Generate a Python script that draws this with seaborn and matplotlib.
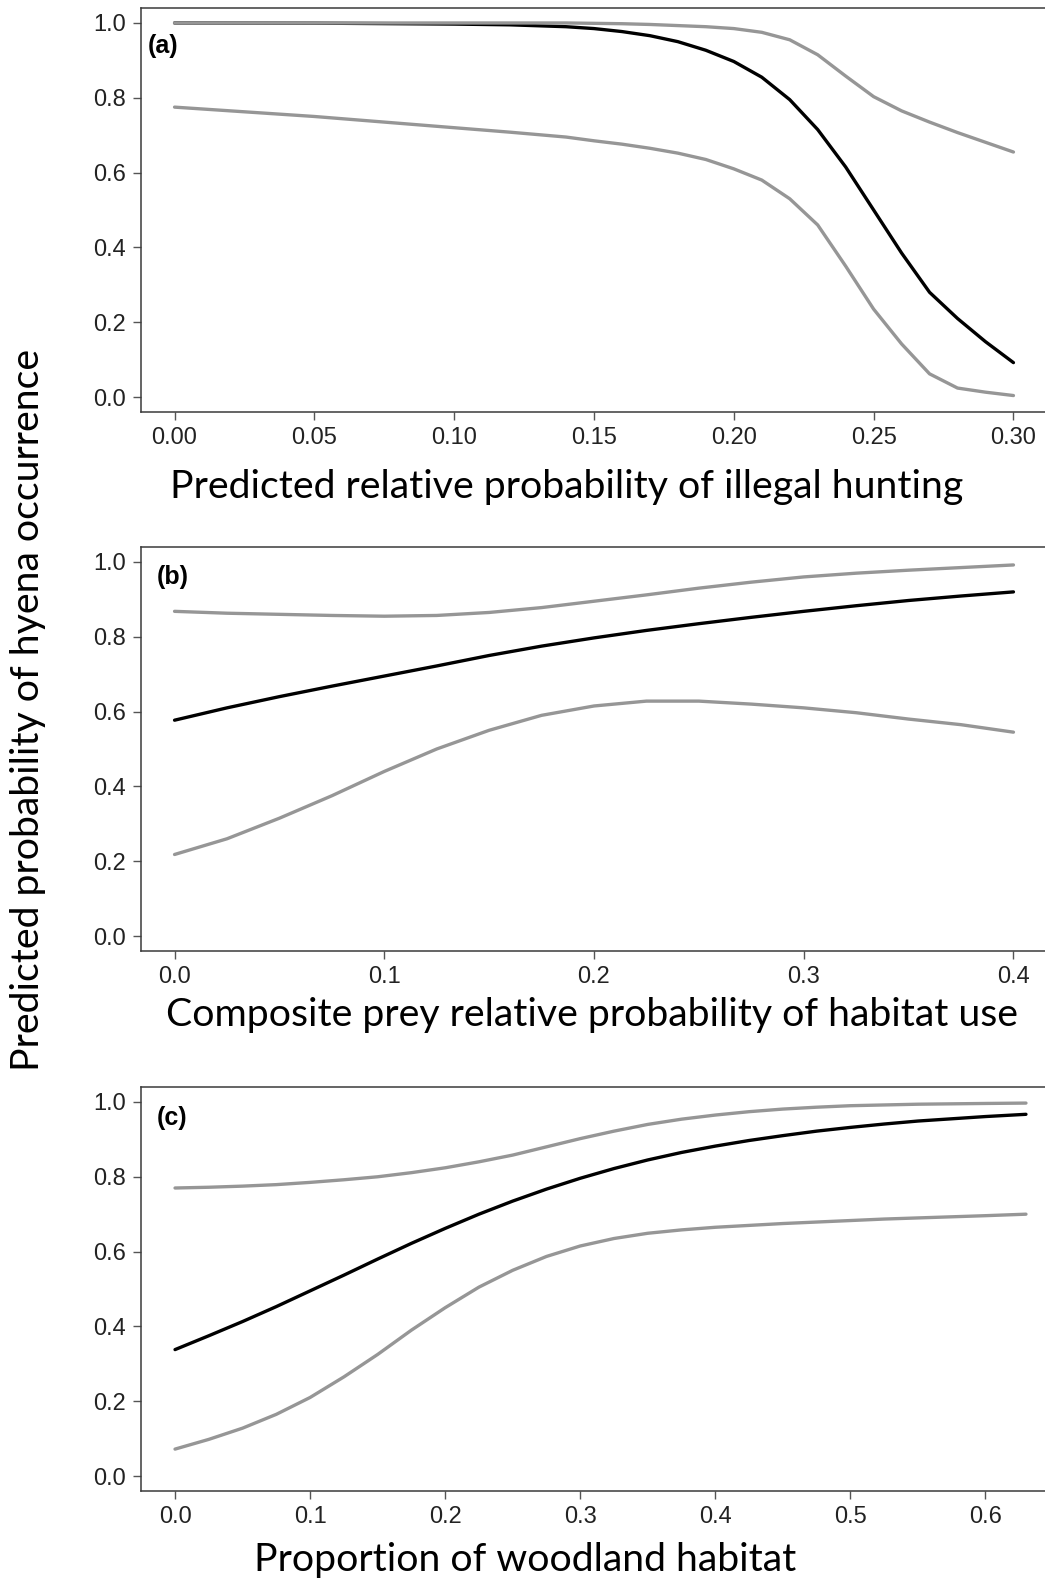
import numpy as np
import pandas as pd
import matplotlib
matplotlib.use("Agg")
import matplotlib.pyplot as plt
import seaborn as sns

# ---------------- data ----------------
# Panel (a): illegal hunting
a_x = [0.00, 0.05, 0.10, 0.12, 0.14, 0.15, 0.16, 0.17, 0.18, 0.19, 0.20, 0.21,
       0.22, 0.23, 0.24, 0.25, 0.26, 0.27, 0.28, 0.29, 0.30]
a_mean = [1.000, 0.9995, 0.997, 0.995, 0.990, 0.985, 0.977, 0.966, 0.950, 0.927,
          0.897, 0.855, 0.795, 0.715, 0.615, 0.500, 0.385, 0.280, 0.210, 0.148, 0.092]
a_upper = [1.000, 1.000, 1.000, 1.000, 1.000, 0.999, 0.998, 0.996, 0.993, 0.990,
           0.985, 0.975, 0.955, 0.915, 0.858, 0.803, 0.765, 0.735, 0.707, 0.681, 0.655]
a_lower = [0.775, 0.750, 0.720, 0.708, 0.695, 0.685, 0.676, 0.665, 0.652, 0.635,
           0.610, 0.580, 0.530, 0.460, 0.350, 0.235, 0.142, 0.062, 0.024, 0.013, 0.004]

# Panel (b): composite prey
b_x = [0.000, 0.025, 0.050, 0.075, 0.100, 0.125, 0.150, 0.175, 0.200, 0.225,
       0.250, 0.275, 0.300, 0.325, 0.350, 0.375, 0.400]
b_mean = [0.577, 0.610, 0.640, 0.668, 0.695, 0.722, 0.750, 0.775, 0.797, 0.817,
          0.835, 0.852, 0.868, 0.883, 0.897, 0.909, 0.920]
b_upper = [0.868, 0.863, 0.860, 0.857, 0.855, 0.857, 0.865, 0.878, 0.895, 0.912,
           0.930, 0.946, 0.960, 0.970, 0.978, 0.985, 0.992]
b_lower = [0.218, 0.260, 0.315, 0.375, 0.440, 0.500, 0.550, 0.590, 0.615, 0.628,
           0.628, 0.620, 0.610, 0.597, 0.580, 0.565, 0.545]

# Panel (c): woodland habitat
c_x = [0.000, 0.025, 0.050, 0.075, 0.100, 0.125, 0.150, 0.175, 0.200, 0.225,
       0.250, 0.275, 0.300, 0.325, 0.350, 0.375, 0.400, 0.425, 0.450, 0.475,
       0.500, 0.525, 0.550, 0.575, 0.600, 0.630]
c_mean = [0.338, 0.375, 0.413, 0.453, 0.495, 0.537, 0.580, 0.622, 0.662, 0.700,
          0.735, 0.767, 0.796, 0.822, 0.845, 0.865, 0.882, 0.897, 0.910, 0.922,
          0.932, 0.941, 0.949, 0.955, 0.961, 0.967]
c_upper = [0.770, 0.772, 0.775, 0.779, 0.785, 0.792, 0.800, 0.811, 0.824, 0.840,
           0.858, 0.880, 0.902, 0.922, 0.940, 0.954, 0.965, 0.974, 0.981, 0.986,
           0.990, 0.992, 0.994, 0.995, 0.996, 0.997]
c_lower = [0.072, 0.098, 0.128, 0.165, 0.210, 0.265, 0.325, 0.390, 0.450, 0.505,
           0.550, 0.587, 0.615, 0.635, 0.649, 0.658, 0.665, 0.670, 0.675, 0.679,
           0.683, 0.687, 0.690, 0.693, 0.696, 0.700]

a_ticks = [0.00, 0.05, 0.10, 0.15, 0.20, 0.25, 0.30]
a_ticklabels = ["0.00", "0.05", "0.10", "0.15", "0.20", "0.25", "0.30"]
b_ticks = [0.0, 0.1, 0.2, 0.3, 0.4]
b_ticklabels = ["0.0", "0.1", "0.2", "0.3", "0.4"]
c_ticks = [0.0, 0.1, 0.2, 0.3, 0.4, 0.5, 0.6]
c_ticklabels = ["0.0", "0.1", "0.2", "0.3", "0.4", "0.5", "0.6"]
y_ticks = [0.0, 0.2, 0.4, 0.6, 0.8, 1.0]
y_ticklabels = ["0.0", "0.2", "0.4", "0.6", "0.8", "1.0"]

panel_labels = ["(a)", "(b)", "(c)"]
x_titles = ["Predicted relative probability of illegal hunting",
            "Composite prey relative probability of habitat use",
            "Proportion of woodland habitat"]
y_title = "Predicted probability of hyena occurrence"

# ---------------- style ----------------
sns.set_style("white")
plt.rcParams["font.family"] = ["Liberation Sans", "DejaVu Sans"]

W, H = 1045, 1583
fig = plt.figure(figsize=(W / 100, H / 100), dpi=100)

# axes boxes in pixels: left, top, right, bottom
boxes = [(141, 8, 1047, 412), (141, 547, 1047, 951), (141, 1087, 1060, 1491)]
label_pos = [(0.008, 0.905), (0.017, 0.925), (0.017, 0.923)]
xlabel_pos = [(567, 487), (592, 1015), (525, 1560)]

panels = [
    (a_x, a_mean, a_upper, a_lower, a_ticks, a_ticklabels),
    (b_x, b_mean, b_upper, b_lower, b_ticks, b_ticklabels),
    (c_x, c_mean, c_upper, c_lower, c_ticks, c_ticklabels),
]

spine_col = "#3a3a3a"
for i, (xs, m, up, lo, xt, xtl) in enumerate(panels):
    l, t, r, b = boxes[i]
    ax = fig.add_axes([l / W, 1 - b / H, (r - l) / W, (b - t) / H])
    df = pd.DataFrame({"x": xs, "mean": m, "upper": up, "lower": lo})
    sns.lineplot(data=df, x="x", y="mean", ax=ax, color="black", lw=2.4)
    sns.lineplot(data=df, x="x", y="upper", ax=ax, color="#969696", lw=2.4)
    sns.lineplot(data=df, x="x", y="lower", ax=ax, color="#969696", lw=2.4)
    rng = max(xs) - min(xs)
    ax.set_xlim(min(xs) - 0.04 * rng, max(xs) + 0.04 * rng)
    ax.set_ylim(-0.04, 1.04)
    ax.set_xticks(xt)
    ax.set_xticklabels(xtl)
    ax.set_yticks(y_ticks)
    ax.set_yticklabels(y_ticklabels)
    ax.set_xlabel("")
    ax.set_ylabel("")
    ax.tick_params(axis="both", direction="out", length=6, width=1.0,
                   color="#555555", labelsize=17, labelcolor="#222222", pad=5,
                   bottom=True, left=True)
    for s in ["left", "bottom", "top"]:
        ax.spines[s].set_visible(True)
        ax.spines[s].set_color(spine_col)
        ax.spines[s].set_linewidth(1.1)
    ax.spines["right"].set_visible(False)
    ax.text(label_pos[i][0], label_pos[i][1], panel_labels[i], transform=ax.transAxes,
            fontsize=18, fontweight="bold", ha="left", va="center", color="black")
    fig.text(xlabel_pos[i][0] / W, 1 - xlabel_pos[i][1] / H, x_titles[i],
             ha="center", va="center", fontsize=28.3, family=["Lato", "DejaVu Sans"],
             color="black")

fig.text(28 / W, 1 - 710 / H, y_title, rotation=90, ha="center", va="center",
         fontsize=28.3, family=["Lato", "DejaVu Sans"], color="black")

fig.savefig("out.png", dpi=100)
